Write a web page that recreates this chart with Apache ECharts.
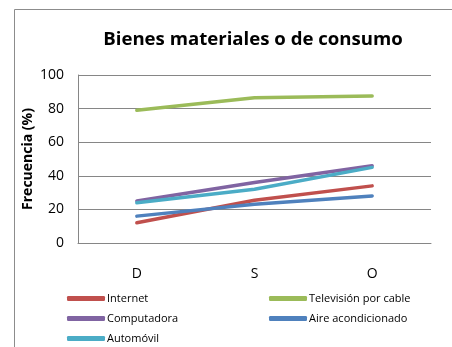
<!DOCTYPE html>
<html>
<head>
<meta charset="utf-8">
<script src="https://cdn.jsdelivr.net/npm/echarts@6/dist/echarts.min.js"></script>
<style>
  html, body { margin: 0; padding: 0; background: #fff; }
  #chart { width: 452px; height: 347px; }
</style>
</head>
<body>
<div id="chart"></div>
<script>
// Survey periods on the category axis
const periods = ['D', 'S', 'O'];

// Share of households owning each item (%)
const internet = [12, 25.5, 34];
const cableTv = [79, 86.5, 87.5];
const computadora = [25, 36, 46];
const aireAcondicionado = [16, 23, 28];
const automovil = [24, 32, 45];

const yTicks = [0, 20, 40, 60, 80, 100];

const FONT = '"Open Sans", "Noto Sans", sans-serif';

const seriesDefs = [
  { name: 'Internet', data: internet, color: '#C0504D' },
  { name: 'Televisión por cable', data: cableTv, color: '#9BBB59' },
  { name: 'Computadora', data: computadora, color: '#8064A2' },
  { name: 'Aire acondicionado', data: aireAcondicionado, color: '#4F81BD' },
  { name: 'Automóvil', data: automovil, color: '#4BACC6' }
];

const chart = echarts.init(document.getElementById('chart'), null, { renderer: 'canvas' });

const legendBase = {
  orient: 'vertical',
  icon: 'roundRect',
  itemWidth: 38,
  itemHeight: 5,
  itemGap: 5,
  selectedMode: false,
  textStyle: { fontFamily: FONT, fontSize: 11, color: '#000', lineHeight: 15, padding: [0, 0, 0, -3] },
  padding: 0
};

chart.setOption({
  animation: false,
  backgroundColor: '#fff',
  graphic: [{
    type: 'rect',
    shape: { x: 14.5, y: 9.5, width: 460, height: 360 },
    style: { fill: 'none', stroke: '#8c8c8c', lineWidth: 1 },
    silent: true,
    z: -1
  }],
  title: {
    text: 'Bienes materiales o de consumo',
    left: 248,
    textAlign: 'center',
    top: 25,
    textStyle: { fontFamily: FONT, fontWeight: 'bold', fontSize: 18.6, color: '#000' }
  },
  legend: [
    Object.assign({}, legendBase, {
      left: 67, top: 291,
      data: ['Internet', 'Computadora', 'Automóvil']
    }),
    Object.assign({}, legendBase, {
      left: 269, top: 291,
      data: ['Televisión por cable', 'Aire acondicionado']
    })
  ],
  grid: { left: 78, right: 21, top: 75, bottom: 104, containLabel: false },
  xAxis: {
    type: 'category',
    data: periods,
    boundaryGap: true,
    axisLine: { lineStyle: { color: '#868686', width: 1 } },
    axisTick: { show: false },
    axisLabel: { fontFamily: FONT, fontSize: 14, color: '#000', margin: 24 }
  },
  yAxis: {
    type: 'value',
    min: yTicks[0],
    max: yTicks[yTicks.length - 1],
    interval: 20,
    name: 'Frecuencia (%)',
    nameLocation: 'middle',
    nameGap: 43,
    nameMoveOverlap: false,
    nameTextStyle: { fontFamily: FONT, fontWeight: 'bold', fontSize: 14, color: '#000' },
    axisLine: { show: true, lineStyle: { color: '#868686', width: 1 } },
    axisTick: { show: false },
    splitLine: { lineStyle: { color: '#868686', width: 1 } },
    axisLabel: { fontFamily: FONT, fontSize: 14, color: '#000', margin: 14 }
  },
  series: seriesDefs.map(s => ({
    name: s.name,
    type: 'line',
    data: s.data,
    color: s.color,
    symbol: 'none',
    lineStyle: { width: 3.5, color: s.color, cap: 'round' }
  }))
});
</script>
</body>
</html>
